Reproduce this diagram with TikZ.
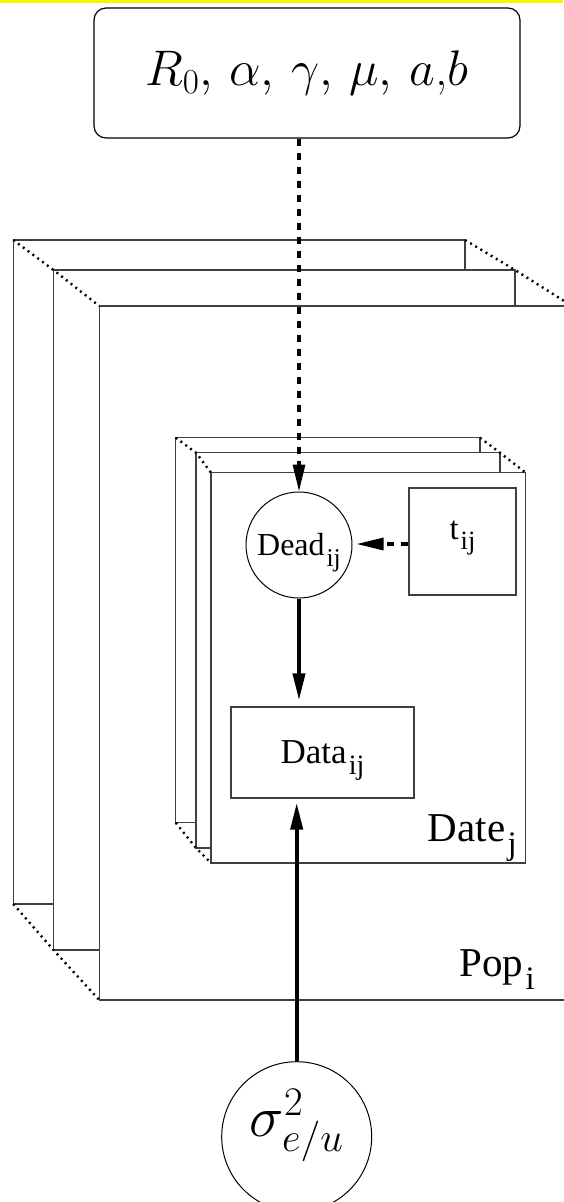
\RequirePackage{fix-cm}
\documentclass[tikz,border=0pt]{standalone}
\usepackage[no-math]{fontspec}
\newfontfamily\timesfont{Liberation Serif}
\usetikzlibrary{arrows.meta}
\newcommand{\lowsub}[1]{\kern0.06em\raisebox{-0.32em}[0pt][0pt]{\scalebox{0.8}{#1}}}

\begin{document}
\begin{tikzpicture}[x=1pt, y=-1pt,
    plate/.style={draw=black!75, line width=1.2pt, fill=white},
    plate edge/.style={line width=2.4pt, dash pattern=on 2pt off 4pt},
    var node/.style={circle, draw, line width=1pt, inner sep=0pt},
    obs node/.style={rectangle, draw=black!75, line width=1.2pt, inner sep=0pt},
    serif text/.style={font=\timesfont\fontsize{#1}{#1}\selectfont},
    math text/.style={font=\fontsize{#1}{#1}\selectfont},
    dep/.style={-{Triangle[length=27pt, width=12pt]}, line width=4pt},
    fixed dep/.style={dep, line width=3.2pt, dash pattern=on 7pt off 7pt}]

    \useasboundingbox (0,0) rectangle (563,1202);
    \fill[yellow] (0,0) rectangle (563,2.7);

    % populations
    \draw[plate] (13.3,240) rectangle (465,904);
    \draw[plate] (53.5,270) rectangle (515,950);
    \draw[plate] (99.3,306) rectangle (572,1000);
    \draw[plate edge] (13.3,240) -- (53.5,270) -- (99.3,306);
    \draw[plate edge] (465,240) -- (515,270) -- (572,306);
    \draw[plate edge] (13.3,904) -- (53.5,950) -- (99.3,1000);

    % dates
    \draw[plate] (175.7,437.7) rectangle (480,822.7);
    \draw[plate] (196,452.7) rectangle (500,848);
    \draw[plate] (211,472.7) rectangle (525.7,863);
    \draw[plate edge] (175.7,437.7) -- (196,452.7) -- (211,472.7);
    \draw[plate edge] (480,437.7) -- (500,452.7) -- (525.7,472.7);
    \draw[plate edge] (175.7,822.7) -- (196,848) -- (211,863);

    \node[draw, line width=1.2pt, rounded corners=12pt, minimum width=426pt, minimum height=130pt, math text=50] at (307, 73) (params)
        {$R_0,\mkern3mu\alpha,\mkern3mu\gamma,\mkern3mu\mu,\mkern3mu a$,$b$};
    \node[var node, minimum size=106pt, serif text=32] at (299, 545) (dead) {Dead\lowsub{ij}};
    \node[obs node, minimum size=107pt, text height=18pt, text depth=23pt, serif text=33] at (462.5, 541.5) (tij) {t\lowsub{ij}};
    \node[obs node, minimum width=183pt, minimum height=91pt, serif text=35] at (322.5, 752.5) (data) {Data\lowsub{ij}};
    \node[var node, minimum size=150pt, text height=46pt, text depth=46pt, math text=58] at (296.7, 1136.7) (sigma) {$\sigma^2_{e/u}$};

    \node[anchor=base east, inner sep=0pt, serif text=41] at (517, 841.7) (datej) {Date\lowsub{j}};
    \node[anchor=base east, inner sep=0pt, serif text=41] at (535, 976.7) (popi) {Pop\lowsub{i}};

    \path[fixed dep] (params.south -| dead.center) edge (dead.north);
    \path[fixed dep] (tij.west |- 0,544) edge[shorten >=4pt] (dead.east |- 0,544);
    \path[dep] (dead.south) edge[shorten >=6pt] (dead.south |- data.north);
    \path[dep] (sigma.north) edge[shorten >=4pt] (sigma.north |- data.south);

\end{tikzpicture}
\end{document}
